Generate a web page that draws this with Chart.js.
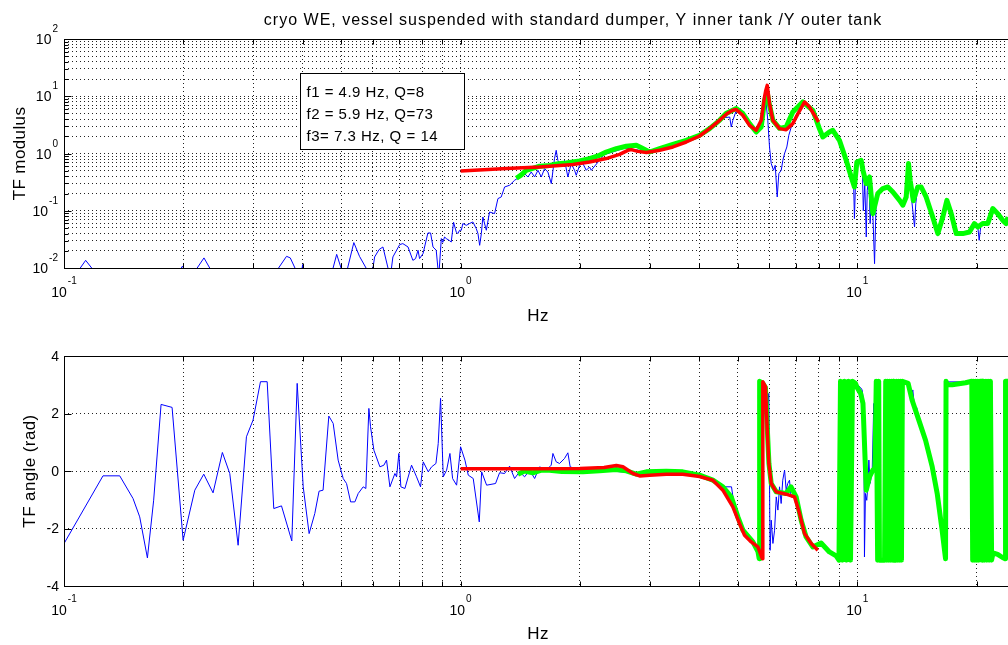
<!DOCTYPE html>
<html>
<head>
<meta charset="utf-8">
<title>cryo WE transfer function</title>
<script src="https://cdn.jsdelivr.net/npm/chart.js@4.4.1/dist/chart.umd.min.js"></script>
<style>
  html, body { margin: 0; padding: 0; background: #fff; overflow: hidden; }
  .panel { position: absolute; left: 0; width: 1008px; }
  #top { top: 0; height: 322px; }
  #bot { top: 322px; height: 323px; }
</style>
</head>
<body>
<div class="panel" id="top"><canvas id="magChart" width="1008" height="322"></canvas></div>
<div class="panel" id="bot"><canvas id="phaseChart" width="1008" height="323"></canvas></div>
<script>
// frequency grid (Hz) and tick labels
const freqGrid = [0.1, 0.2, 0.3, 0.4, 0.5, 0.6, 0.7, 0.8, 0.9, 1, 2, 3, 4, 5, 6, 7, 8, 9, 10, 20];
const freqExps = [-1, 0, 1];
const magGrid = [0.01, 0.02, 0.03, 0.04, 0.05, 0.06, 0.07, 0.08, 0.09,
  0.1, 0.2, 0.3, 0.4, 0.5, 0.6, 0.7, 0.8, 0.9, 1, 2, 3, 4, 5, 6, 7, 8, 9,
  10, 20, 30, 40, 50, 60, 70, 80, 90, 100];
const magExps = [-2, -1, 0, 1, 2];
const phaseTicks = [-4, -2, 0, 2, 4];

const fitNotes = ['f1 = 4.9 Hz, Q=8', 'f2 = 5.9 Hz, Q=73', 'f3= 7.3 Hz, Q = 14'];

// measured TF modulus, first measurement [Hz, |TF|]
const blueMag = [
  [0.100, 0.004], [0.1034, 0.0055], [0.1134, 0.0136], [0.1245, 0.006], [0.150, 0.003], [0.185, 0.005],
  [0.199, 0.0108], [0.208, 0.006], [0.212, 0.008], [0.2254, 0.015], [0.240, 0.007], [0.280, 0.004],
  [0.318, 0.005], [0.340, 0.008], [0.364, 0.016], [0.372, 0.015], [0.388, 0.008], [0.396, 0.008],
  [0.400, 0.0115], [0.404, 0.008], [0.450, 0.005], [0.476, 0.0095], [0.487, 0.0173], [0.502, 0.009],
  [0.518, 0.0095], [0.538, 0.0278], [0.556, 0.016], [0.580, 0.0095], [0.592, 0.007], [0.601, 0.0098],
  [0.607, 0.0156], [0.623, 0.021], [0.637, 0.0233], [0.656, 0.010], [0.665, 0.007], [0.675, 0.0156],
  [0.702, 0.0256], [0.715, 0.0267], [0.737, 0.0233], [0.758, 0.0136], [0.770, 0.0146], [0.781, 0.0204],
  [0.788, 0.0146], [0.804, 0.0178], [0.827, 0.0409], [0.840, 0.0409], [0.852, 0.0233], [0.868, 0.0204],
  [0.877, 0.0095], [0.882, 0.008], [0.894, 0.0327], [0.902, 0.028], [0.911, 0.0348], [0.920, 0.0327],
  [0.938, 0.030], [0.947, 0.0284], [0.960, 0.063], [0.975, 0.0425], [0.984, 0.0399], [0.994, 0.0456],
  [1.004, 0.0456], [1.013, 0.0597], [1.034, 0.0557], [1.054, 0.060], [1.074, 0.0637], [1.095, 0.0488],
  [1.106, 0.040], [1.117, 0.0249], [1.128, 0.0399], [1.138, 0.0778], [1.161, 0.0456], [1.183, 0.095],
  [1.218, 0.0891], [1.242, 0.163], [1.266, 0.174], [1.291, 0.26], [1.329, 0.279], [1.368, 0.34],
  [1.408, 0.389], [1.450, 0.446], [1.478, 0.389], [1.507, 0.475], [1.537, 0.389], [1.567, 0.509],
  [1.598, 0.389], [1.628, 0.545], [1.660, 0.475], [1.693, 0.298], [1.725, 0.815], [1.742, 1.137],
  [1.759, 0.76], [1.794, 0.581], [1.829, 0.76], [1.864, 0.389], [1.901, 0.666], [1.938, 0.509],
  [1.957, 0.416], [1.995, 0.622], [2.034, 0.666], [2.074, 0.509], [2.114, 0.581], [2.135, 0.509],
  [2.3, 0.95], [2.6, 1.25], [2.9, 1.1], [3.2, 1.15], [3.5, 1.45], [3.8, 1.75], [4.1, 2.3], [4.4, 3.2],
  [4.6, 4.2], [4.77, 4.34], [4.813, 2.9], [4.858, 3.8], [4.94, 5.3], [5.1, 5.0], [5.35, 3.3], [5.56, 2.4],
  [5.73, 3.0], [5.84, 9.0], [5.896, 7.44], [5.951, 3.8], [6.01, 1.3], [6.07, 0.666], [6.152, 0.509],
  [6.213, 0.622], [6.285, 0.174], [6.345, 0.446], [6.433, 0.509], [6.494, 0.76], [6.558, 0.996],
  [6.646, 1.3], [6.723, 2.08], [6.818, 2.9], [6.95, 4.1], [7.29, 7.5], [7.73, 5.5], [8.03, 2.7],
  [8.19, 1.95], [8.51, 2.37], [8.68, 2.5], [9.02, 1.7], [9.38, 0.76], [9.66, 0.39], [9.80, 0.25],
  [9.84, 0.073], [9.90, 0.30], [9.98, 0.70], [10.23, 0.76], [10.30, 0.62], [10.36, 0.10], [10.45, 0.30],
  [10.54, 0.0348], [10.60, 0.228], [10.70, 0.38], [10.78, 0.0597], [10.86, 0.20], [10.95, 0.089],
  [11.06, 0.0119], [11.15, 0.116], [11.27, 0.2], [11.6, 0.244], [11.95, 0.26], [12.3, 0.213],
  [12.79, 0.152], [13.03, 0.125], [13.29, 0.174], [13.47, 0.60], [13.6, 0.278], [13.95, 0.052],
  [14.05, 0.133], [14.21, 0.26], [14.5, 0.26], [14.92, 0.174], [15.5, 0.0778], [15.97, 0.0399],
  [16.44, 0.0778], [16.83, 0.152], [17.26, 0.089], [17.77, 0.0399], [18.46, 0.0399], [19.19, 0.0425],
  [19.75, 0.0597], [20.14, 0.052], [20.3, 0.0305], [20.5, 0.055], [21.34, 0.0597], [21.97, 0.109],
  [22.62, 0.089], [23.28, 0.068], [23.9, 0.075]
];

// measured TF modulus, second measurement
const greenMag = [
  [1.382, 0.369], [1.42, 0.42], [1.464, 0.509], [1.52, 0.55], [1.582, 0.60], [1.676, 0.62], [1.76, 0.66],
  [1.847, 0.68], [1.995, 0.74], [2.114, 0.815], [2.24, 0.93], [2.329, 1.062], [2.469, 1.218],
  [2.616, 1.336], [2.773, 1.39], [2.88, 1.218], [2.995, 1.062], [3.175, 1.218], [3.43, 1.448],
  [3.706, 1.70], [4.004, 2.08], [4.244, 2.72], [4.497, 3.8], [4.67, 4.98], [4.955, 6.1], [5.148, 4.98],
  [5.352, 3.33], [5.564, 2.37], [5.728, 2.9], [5.84, 8.5], [5.93, 11.5], [6.01, 7.0], [6.13, 3.8],
  [6.37, 2.75], [6.62, 2.9], [6.88, 5.3], [7.29, 7.94], [7.73, 5.68], [8.03, 2.72], [8.19, 1.94],
  [8.51, 2.37], [8.68, 2.54], [9.02, 1.70], [9.38, 0.76], [9.66, 0.389], [9.84, 0.26], [9.98, 0.711],
  [10.23, 0.76], [10.34, 0.509], [10.54, 0.298], [10.74, 0.389], [10.95, 0.089], [11.27, 0.20],
  [11.6, 0.244], [11.95, 0.26], [12.3, 0.213], [12.79, 0.152], [13.03, 0.125], [13.29, 0.174],
  [13.47, 0.666], [13.6, 0.34], [13.85, 0.15], [14.21, 0.26], [14.5, 0.26], [14.92, 0.174],
  [15.5, 0.0778], [15.97, 0.0399], [16.44, 0.0778], [16.83, 0.152], [17.26, 0.089], [17.77, 0.0399],
  [18.46, 0.0399], [19.19, 0.0425], [19.75, 0.0597], [20.14, 0.052], [20.72, 0.0597], [21.34, 0.0597],
  [21.97, 0.109], [22.62, 0.089], [23.28, 0.068], [23.75, 0.0597], [24.0, 0.078]
];

// 3-resonance model fit
const fitMag = [
  [1.0, 0.494], [1.304, 0.545], [1.582, 0.581], [1.919, 0.64], [2.114, 0.711], [2.329, 0.815],
  [2.516, 0.968], [2.641, 1.137], [2.693, 1.17], [2.80, 1.09], [2.94, 1.037], [3.175, 1.137],
  [3.43, 1.3], [3.706, 1.588], [4.004, 2.02], [4.244, 2.72], [4.497, 3.8], [4.70, 5.0], [4.858, 5.68],
  [4.955, 5.85], [5.148, 4.65], [5.352, 3.1], [5.564, 2.54], [5.728, 3.8], [5.838, 9.7], [5.88, 12.5],
  [5.93, 15.5], [5.97, 11.0], [6.01, 7.45], [6.13, 3.8], [6.37, 2.72], [6.62, 2.61], [6.88, 3.33],
  [7.09, 4.98], [7.37, 7.94], [7.58, 6.49], [7.99, 3.55]
];

// TF angle (rad)
const bluePhase = [
  [0.1, -2.525], [0.1254, -0.168], [0.1382, -0.168], [0.1493, -0.958], [0.1552, -1.596], [0.1623, -3.024],
  [0.1683, -1.016], [0.1757, 2.316], [0.1873, 2.212], [0.1997, -2.409], [0.2137, -0.667], [0.2251, -0.11],
  [0.2376, -0.76], [0.2508, 0.645], [0.2618, -0.087], [0.2748, -2.583], [0.2884, 1.19], [0.2997, 1.771],
  [0.3129, 3.106], [0.3253, 3.106], [0.338, -1.306], [0.3535, -1.213], [0.3753, -2.432], [0.3872, 3.048],
  [0.401, -0.551], [0.415, -2.177], [0.4289, -1.48], [0.4397, -0.702], [0.45, -0.667], [0.4653, 1.91],
  [0.4772, 1.655], [0.4912, 0.378], [0.5058, -0.261], [0.5157, -0.435], [0.528, -1.074], [0.5413, -1.074],
  [0.5518, -0.783], [0.568, -0.551], [0.5769, -0.609], [0.5871, 2.177], [0.5928, 1.539], [0.6044, 0.726],
  [0.6259, 0.145], [0.6406, 0.203], [0.6505, 0.378], [0.6634, -0.551], [0.6829, -0.087], [0.6896, -0.203],
  [0.6987, 0.61], [0.7069, -0.551], [0.7237, -0.609], [0.7522, 0.203], [0.7743, -0.203], [0.7925, -0.551],
  [0.8051, 0.319], [0.8288, -0.029], [0.845, 0.145], [0.8666, 0.261], [0.8782, 0.958], [0.8902, 2.525],
  [0.9042, -0.203], [0.922, 0.029], [0.9399, 0.61], [0.9546, -0.261], [0.977, -0.493], [1.0, 0.842],
  [1.0254, 0.378], [1.0455, -0.145], [1.076, -0.261], [1.1145, -1.77], [1.13, -0.029], [1.163, -0.493],
  [1.225, -0.435], [1.254, -0.06], [1.291, -0.087], [1.329, 0.168], [1.368, -0.261], [1.408, -0.029],
  [1.45, -0.203], [1.493, 0.029], [1.537, -0.261], [1.582, 0.145], [1.644, 0.029], [1.692, 0.203],
  [1.709, 0.61], [1.742, 0.319], [1.776, 0.261], [1.828, 0.435], [1.864, 0.633], [1.889, 0.145],
  [1.938, 0.087], [1.995, 0.029], [2.3, 0.02], [2.8, -0.08], [3.3, -0.02], [3.8, -0.08], [4.2, -0.25],
  [4.6, -0.55], [4.82, -0.55], [4.86, -0.9], [4.9, -1.25], [5.0, -1.6], [5.2, -2.2], [5.45, -2.47],
  [5.70, -2.9], [5.76, -3.0], [5.78, 3.1], [5.873, 3.0], [5.95, 2.35], [5.986, 2.7], [6.03, -2.76],
  [6.07, -1.71], [6.13, -2.52], [6.19, -2.06], [6.25, -0.9], [6.31, -1.36], [6.37, -0.55], [6.43, -1.13],
  [6.49, -0.32], [6.56, 0.03], [6.62, -0.667], [6.68, -0.435], [6.75, -0.32], [6.81, -0.9], [7.0, -0.95],
  [7.22, -1.7], [7.43, -2.29], [7.73, -2.64], [8.1, -2.55], [8.5, -2.8], [9.0, -3.0], [9.5, -3.05],
  [9.6, 3.1], [10.0, 3.0], [10.2, 2.9], [10.29, 2.82], [10.39, 2.35], [10.43, -2.99], [10.49, -0.78],
  [10.57, -1.02], [10.63, -0.55], [10.7, 0.38], [10.78, -0.43], [10.91, 0.03], [11.01, 2.35], [11.08, 0.15],
  [11.17, 3.1], [11.3, -3.1], [11.69, -3.1], [12.0, 3.1], [12.3, -3.1], [12.6, -3.1], [12.9, 3.1],
  [13.4, 3.1], [13.6, 2.93], [13.71, 2.58], [13.81, 2.82], [13.92, 2.35], [14.03, 2.0], [14.13, 2.2],
  [14.3, 1.77], [14.87, 1.07], [15.46, 0.14], [15.91, -0.78], [16.37, -2.06], [16.7, -3.05], [16.77, 3.1],
  [19.5, 3.1], [19.9, -3.1], [20.3, 3.1], [20.8, 3.1], [21.8, -3.0], [22.5, -2.9], [23.6, -3.05],
  [23.65, 3.1], [24.0, 3.1]
];

const greenPhase = [
  [1.395, -0.11], [1.45, 0.0], [1.521, -0.064], [1.60, 0.03], [1.676, 0.029], [1.80, -0.02], [2.034, -0.029],
  [2.24, 0.006], [2.469, 0.053], [2.616, 0.006], [2.772, -0.11], [2.938, -0.029], [3.299, -0.006],
  [3.634, -0.029], [4.004, -0.145], [4.326, -0.319], [4.585, -0.551], [4.812, -0.9], [5.002, -1.596],
  [5.149, -2.06], [5.457, -2.467], [5.62, -2.8], [5.66, -3.05], [5.675, 3.12], [5.78, 3.05], [5.87, 2.9],
  [5.92, 1.77], [5.99, 0.26], [6.07, -0.435], [6.25, -0.726], [6.62, -0.78], [6.81, -0.55], [7.015, -0.9],
  [7.222, -1.712], [7.434, -2.293], [7.727, -2.641], [8.108, -2.502], [8.51, -2.815], [8.85, -2.95],
  [8.996, -3.1], [9.075, 3.12], [9.18, -3.1], [9.29, 3.12], [9.40, -3.1], [9.51, 3.12], [9.62, -3.1],
  [9.73, 3.12], [9.9, 3.05], [10.0, 2.9], [10.2, 2.7], [10.34, 2.35], [10.54, -0.667], [10.74, -0.204],
  [10.95, 0.03], [11.08, 0.09], [11.17, 3.12], [11.26, -3.1], [11.33, 3.12], [11.38, -3.1], [11.72, -3.1],
  [11.80, 3.12], [11.86, -3.1], [11.93, 3.12], [12.0, -3.1], [12.07, 3.12], [12.14, -3.1], [12.21, 3.12],
  [12.28, -3.1], [12.33, 3.12], [12.36, -3.1], [12.52, -3.1], [12.57, 3.12], [12.64, -3.1], [12.71, 3.12],
  [12.78, -3.1], [12.86, 3.12], [12.93, -3.1], [13.0, 3.12], [13.44, 3.05], [13.75, 2.47], [14.3, 1.77],
  [14.87, 1.07], [15.46, 0.14], [15.91, -0.78], [16.37, -2.06], [16.7, -3.05], [16.75, 3.12], [16.85, 3.0],
  [17.36, 3.0], [18.76, 3.07], [19.45, 3.12], [19.55, -3.1], [19.67, 3.12], [19.79, -3.1], [19.91, 3.12],
  [20.03, -3.1], [20.15, 3.12], [20.28, -3.1], [20.40, 3.12], [20.66, 3.12], [20.72, -3.1], [20.85, 3.12],
  [20.98, -3.1], [21.12, 3.12], [21.25, -3.1], [21.39, 3.12], [21.53, -3.1], [21.67, 3.12], [21.82, -3.1],
  [22.0, -2.85], [22.6, -2.9], [23.2, -3.0], [23.6, -3.05], [23.66, 3.12], [24.0, 3.12]
];

const fitPhase = [
  [1.0, 0.08], [1.5, 0.08], [2.0, 0.09], [2.3, 0.12], [2.47, 0.19], [2.566, 0.145], [2.72, -0.087],
  [2.827, -0.17], [2.996, -0.145], [3.3, -0.11], [3.634, -0.11], [4.004, -0.19], [4.325, -0.32],
  [4.584, -0.667], [4.858, -1.25], [5.05, -1.83], [5.2, -2.235], [5.405, -2.468], [5.617, -2.64],
  [5.762, -3.05], [5.781, 3.105], [5.873, 2.93], [5.917, 1.77], [5.986, 0.26], [6.07, -0.435],
  [6.25, -0.726], [6.62, -0.807], [6.95, -0.9], [7.155, -1.48], [7.365, -2.176], [7.656, -2.52],
  [7.957, -2.757]
];

const FAMILY = "'Liberation Sans', Arial, Helvetica, sans-serif";
const toXY = (pairs) => pairs.map(([hz, v]) => ({ x: hz, y: v }));
const isDecade = (v) => Math.abs(Math.log10(v) - Math.round(Math.log10(v))) < 1e-9;

function powLabel(ctx, exp, x, y, mode) {
  ctx.font = `14px ${FAMILY}`;
  const wBase = ctx.measureText('10').width;
  ctx.font = `10px ${FAMILY}`;
  const e = String(exp);
  const wExp = ctx.measureText(e).width;
  const left = mode === 'x' ? x - (wBase + wExp + 1) / 2 : x - (wBase + wExp + 1);
  ctx.font = `14px ${FAMILY}`;
  ctx.fillText('10', left, y);
  ctx.font = `10px ${FAMILY}`;
  ctx.fillText(e, left + wBase + 1, y - (mode === 'x' ? 13.5 : 12));
}

// MATLAB-like box, inward ticks and all the text of one subplot
function bodeDecor(cfg) {
  return {
    id: 'bodeDecor',
    afterDatasetsDraw(chart) {
      const { ctx, chartArea: a, scales: { x, y } } = chart;
      const L = Math.round(a.left) + 0.5, T = Math.round(a.top) + 0.5, B = Math.round(a.bottom) + 0.5;
      ctx.save();
      ctx.strokeStyle = '#000';
      ctx.lineWidth = 1;
      ctx.beginPath();
      ctx.moveTo(a.right, T); ctx.lineTo(L, T); ctx.lineTo(L, B); ctx.lineTo(a.right, B);
      x.ticks.forEach((t) => {
        const px = Math.round(x.getPixelForValue(t.value)) + 0.5;
        ctx.moveTo(px, B); ctx.lineTo(px, B - 5);
        ctx.moveTo(px, T); ctx.lineTo(px, T + 5);
      });
      y.ticks.forEach((t) => {
        const py = Math.round(y.getPixelForValue(t.value)) + 0.5;
        const len = cfg.logY && !isDecade(t.value) ? 4 : 7;
        ctx.moveTo(L, py); ctx.lineTo(L + len, py);
      });
      ctx.stroke();

      ctx.fillStyle = '#000';
      ctx.textAlign = 'left';
      ctx.textBaseline = 'alphabetic';
      freqExps.forEach((e) => powLabel(ctx, e, x.getPixelForValue(10 ** e), a.bottom + 29, 'x'));
      if (cfg.logY) {
        magExps.forEach((e) => powLabel(ctx, e, a.left - 6, y.getPixelForValue(10 ** e) + 5, 'y'));
      } else {
        ctx.font = `14px ${FAMILY}`;
        ctx.textAlign = 'right';
        ctx.textBaseline = 'middle';
        phaseTicks.forEach((v) => ctx.fillText(String(v), a.left - 5, y.getPixelForValue(v) + 1));
      }

      ctx.font = `17px ${FAMILY}`;
      ctx.letterSpacing = '0.4px';
      ctx.textAlign = 'center';
      ctx.textBaseline = 'alphabetic';
      ctx.fillText('Hz', (a.left + a.right) / 2 + 2, a.bottom + 53);
      ctx.save();
      ctx.translate(cfg.yTitleX, (a.top + a.bottom) / 2);
      ctx.rotate(-Math.PI / 2);
      ctx.fillText(cfg.yTitle, 0, 0);
      ctx.restore();

      if (cfg.title) {
        ctx.font = `16px ${FAMILY}`;
        ctx.letterSpacing = '1px';
        ctx.fillText(cfg.title, 573, 25);
      }

      if (cfg.note) {
        const bx = Math.round(x.getPixelForValue(cfg.note.hz)) + 0.5;
        const by = Math.round(y.getPixelForValue(cfg.note.val)) + 0.5;
        ctx.fillStyle = '#fff';
        ctx.fillRect(bx, by, 164, 76);
        ctx.strokeRect(bx, by, 164, 76);
        ctx.fillStyle = '#000';
        ctx.font = `15px ${FAMILY}`;
        ctx.letterSpacing = '0.5px';
        ctx.textAlign = 'left';
        cfg.note.lines.forEach((s, i) => ctx.fillText(s, bx + 6, by + 23.5 + i * 22.2));
      }
      ctx.letterSpacing = '0px';
      ctx.restore();
    }
  };
}

const gridStyle = { color: '#222', lineWidth: 1, drawTicks: false };
const borderStyle = { display: false, dash: [1, 3] };

function freqAxis() {
  return {
    type: 'logarithmic', min: 0.1, max: 24,
    afterBuildTicks: (s) => { s.ticks = freqGrid.map((v) => ({ value: v })); },
    ticks: { display: false },
    grid: gridStyle,
    border: borderStyle
  };
}

function series(pairs, color, width, order) {
  return {
    data: toXY(pairs),
    borderColor: color,
    backgroundColor: color,
    borderWidth: width,
    borderJoinStyle: 'round',
    pointRadius: 0,
    tension: 0,
    fill: false,
    clip: 0,
    order
  };
}

const common = {
  responsive: false,
  animation: false,
  events: [],
  plugins: { legend: { display: false }, tooltip: { enabled: false }, title: { display: false } }
};

new Chart(document.getElementById('magChart'), {
  type: 'line',
  data: {
    datasets: [
      series(blueMag, '#0000ff', 1, 3),
      series(greenMag, '#00ff00', 5, 2),
      series(fitMag, '#ff0000', 3.5, 1)
    ]
  },
  options: {
    ...common,
    layout: { autoPadding: false, padding: { left: 64, top: 39, right: 0, bottom: 54 } },
    scales: {
      x: freqAxis(),
      y: {
        type: 'logarithmic', min: 0.01, max: 100,
        afterBuildTicks: (s) => { s.ticks = magGrid.map((v) => ({ value: v })); },
        ticks: { display: false },
        grid: gridStyle,
        border: borderStyle
      }
    }
  },
  plugins: [bodeDecor({
    logY: true,
    yTitle: 'TF modulus',
    yTitleX: 25,
    title: 'cryo WE, vessel suspended with standard dumper, Y inner tank /Y outer tank',
    note: { hz: 0.393, val: 25.2, lines: fitNotes }
  })]
});

new Chart(document.getElementById('phaseChart'), {
  type: 'line',
  data: {
    datasets: [
      series(bluePhase, '#0000ff', 1, 3),
      series(greenPhase, '#00ff00', 5, 2),
      series(fitPhase, '#ff0000', 3.5, 1)
    ]
  },
  options: {
    ...common,
    layout: { autoPadding: false, padding: { left: 64, top: 34, right: 0, bottom: 59 } },
    scales: {
      x: freqAxis(),
      y: {
        type: 'linear', min: -4, max: 4,
        afterBuildTicks: (s) => { s.ticks = phaseTicks.map((v) => ({ value: v })); },
        ticks: { display: false },
        grid: gridStyle,
        border: borderStyle
      }
    }
  },
  plugins: [bodeDecor({ logY: false, yTitle: 'TF angle (rad)', yTitleX: 35 })]
});
</script>
</body>
</html>
